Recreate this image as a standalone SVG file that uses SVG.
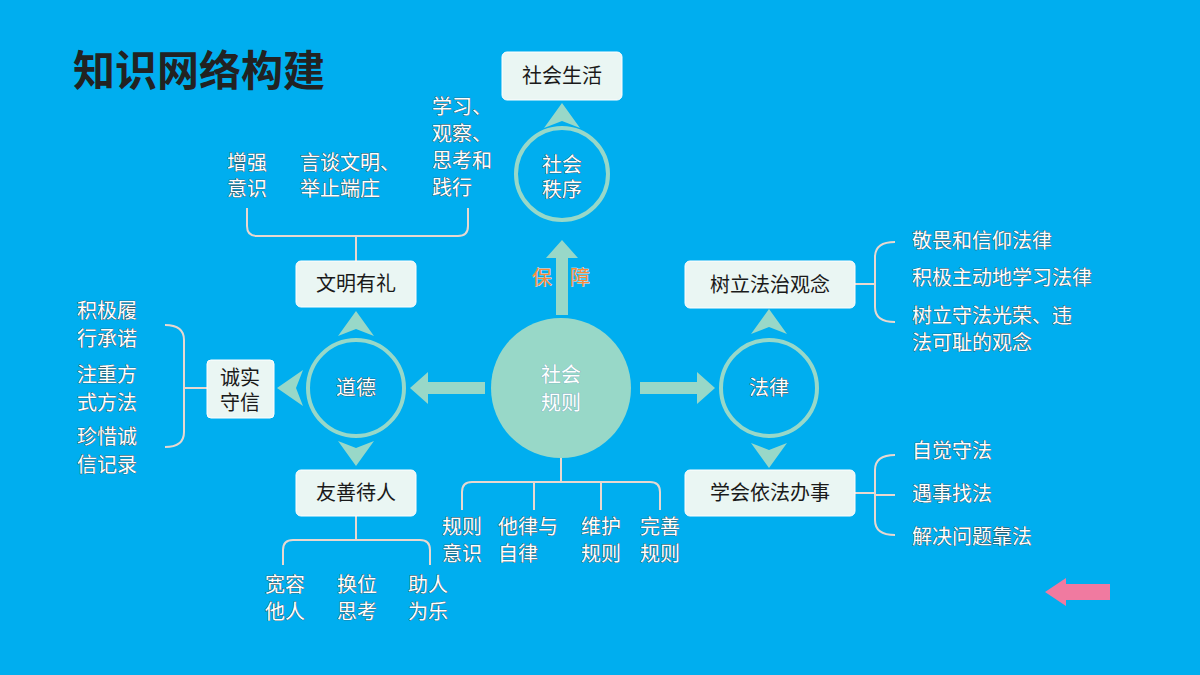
<svg xmlns="http://www.w3.org/2000/svg" width="1200" height="675" viewBox="0 0 1200 675">
<style>
.bg{fill:#00AEEF}
.box{fill:#EAF6F3;stroke:#fff;stroke-width:1}
.bt{font-family:"Noto Sans CJK SC",sans-serif;font-size:20px;fill:#1a1a1a;text-anchor:middle}
.lb{font-family:"Noto Sans CJK SC",sans-serif;font-size:20px;fill:#fff;stroke:#444;stroke-width:0.7;paint-order:stroke}
.c{text-anchor:middle}
.ring{fill:none;stroke:#98D8C8;stroke-width:4}
.ln{fill:none;stroke:#E8D8D0;stroke-width:2}
.tri{fill:#98D8C8}
.ct{font-family:"Noto Sans CJK SC",sans-serif;font-size:20px;fill:#fff;stroke:#333;stroke-width:0.7;paint-order:stroke;text-anchor:middle}
</style>
<rect class="bg" width="1200" height="675"/>
<text x="73" y="86" font-family="Noto Sans CJK SC,sans-serif" font-size="42" font-weight="bold" fill="#222">知识网络构建</text>
<g id="connectors">
<path class="ln" d="M356 261V236M247 208V226Q247 236 257 236H458Q468 236 468 226V208"/>
<path class="ln" d="M207 388H184M165 325Q184 325 184 340V432Q184 447 165 447"/>
<path class="ln" d="M356 516V540M283 565V550Q283 540 293 540H420Q430 540 430 550V565"/>
<path class="ln" d="M561 458V482M462 510V492Q462 482 472 482H650Q660 482 660 492V510M534 482V510M601 482V510"/>
<path class="ln" d="M855 284H875M895 242Q875 242 875 257V307Q875 322 895 322"/>
<path class="ln" d="M855 493H875M895 455Q875 455 875 470V520Q875 535 895 535M875 495H895"/>
<path class="tri" d="M556 315V258H546L562 240L578 258H568V315Z"/>
<path class="tri" d="M485 382H428V372L410 388L428 404V394H485Z"/>
<path class="tri" d="M640 382H697V372L715 388L697 404V394H640Z"/>
<path class="tri" d="M562 103L580 128L562 121L544 128Z"/>
<path class="tri" d="M356 311L374 336L356 329L338 336Z"/>
<path class="tri" d="M356 466L374 441L356 448L338 441Z"/>
<path class="tri" d="M277 388L303 370L296 388L303 406Z"/>
<path class="tri" d="M769 309L787 334L769 327L751 334Z"/>
<path class="tri" d="M769 468L787 443L769 450L751 443Z"/>
<path fill="#F07AA0" d="M1045 592L1066 578V584H1110V600H1066V606Z"/>
</g>
<g id="n-life"><rect class="box" x="502" y="52" width="120" height="48" rx="5"/><text class="bt" x="562" y="83">社会生活</text></g>
<g id="n-order"><circle class="ring" cx="562" cy="174" r="46"/><text class="ct" x="562" y="172">社会</text><text class="ct" x="562" y="197">秩序</text></g>
<g id="n-rule"><circle cx="561" cy="388" r="70" fill="#98D8C8"/><text class="ct" x="561" y="382" style="stroke:#7ab">社会</text><text class="ct" x="561" y="410" style="stroke:#7ab">规则</text></g>
<g id="n-moral"><circle class="ring" cx="356" cy="388" r="48"/><text class="ct" x="356" y="395">道德</text></g>
<g id="n-law"><circle class="ring" cx="769" cy="388" r="48"/><text class="ct" x="769" y="395">法律</text></g>
<g id="n-civil"><rect class="box" x="296" y="261" width="120" height="46" rx="5"/><text class="bt" x="356" y="291">文明有礼</text></g>
<g id="n-honest"><rect class="box" x="207" y="360" width="67" height="58" rx="4"/><text class="bt" x="240" y="385">诚实</text><text class="bt" x="240" y="410">守信</text></g>
<g id="n-kind"><rect class="box" x="296" y="470" width="120" height="46" rx="5"/><text class="bt" x="356" y="500">友善待人</text></g>
<g id="n-concept"><rect class="box" x="685" y="261" width="170" height="47" rx="5"/><text class="bt" x="770" y="292">树立法治观念</text></g>
<g id="n-act"><rect class="box" x="685" y="470" width="170" height="46" rx="5"/><text class="bt" x="770" y="500">学会依法办事</text></g>
<g id="labels">
<text x="532" y="285" font-family="Noto Sans CJK SC,sans-serif" font-size="20" fill="#F58A3A" stroke="#fff" stroke-width="0.5" paint-order="stroke">保</text>
<text x="570" y="285" font-family="Noto Sans CJK SC,sans-serif" font-size="20" fill="#F58A3A" stroke="#fff" stroke-width="0.5" paint-order="stroke">障</text>
<text class="lb c" x="247" y="170">增强</text><text class="lb c" x="247" y="196">意识</text>
<text class="lb" x="300" y="170">言谈文明、</text><text class="lb" x="300" y="196">举止端庄</text>
<text class="lb" x="432" y="114">学习、</text><text class="lb" x="432" y="141">观察、</text><text class="lb" x="432" y="168">思考和</text><text class="lb" x="432" y="195">践行</text>
<text class="lb" x="77" y="318">积极履</text><text class="lb" x="77" y="346">行承诺</text>
<text class="lb" x="77" y="382">注重方</text><text class="lb" x="77" y="410">式方法</text>
<text class="lb" x="77" y="444">珍惜诚</text><text class="lb" x="77" y="472">信记录</text>
<text class="lb c" x="285" y="592">宽容</text><text class="lb c" x="285" y="619">他人</text>
<text class="lb c" x="357" y="592">换位</text><text class="lb c" x="357" y="619">思考</text>
<text class="lb c" x="428" y="592">助人</text><text class="lb c" x="428" y="619">为乐</text>
<text class="lb c" x="462" y="534">规则</text><text class="lb c" x="462" y="561">意识</text>
<text class="lb" x="498" y="534">他律与</text><text class="lb" x="498" y="561">自律</text>
<text class="lb c" x="601" y="534">维护</text><text class="lb c" x="601" y="561">规则</text>
<text class="lb c" x="660" y="534">完善</text><text class="lb c" x="660" y="561">规则</text>
<text class="lb" x="912" y="248">敬畏和信仰法律</text>
<text class="lb" x="912" y="285">积极主动地学习法律</text>
<text class="lb" x="912" y="323">树立守法光荣、违</text><text class="lb" x="912" y="350">法可耻的观念</text>
<text class="lb" x="912" y="458">自觉守法</text>
<text class="lb" x="912" y="501">遇事找法</text>
<text class="lb" x="912" y="544">解决问题靠法</text>
</g>
</svg>
